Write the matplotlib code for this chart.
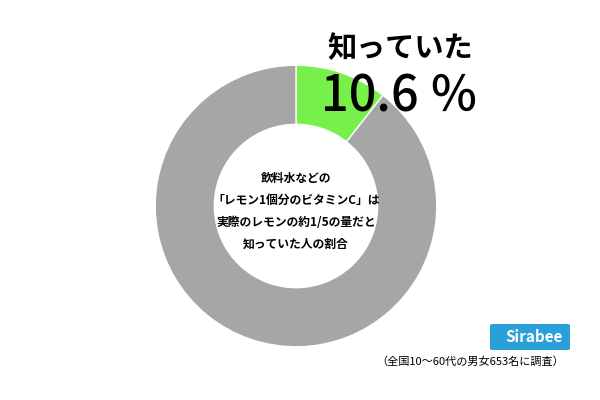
import matplotlib
matplotlib.use("Agg")
import matplotlib.pyplot as plt
from matplotlib.patches import FancyBboxPatch

plt.rcParams['font.family'] = ['Noto Sans CJK JP', 'DejaVu Sans']

labels = ["知っていた", "知らなかった"]
values = [10.6, 89.4]
colors = ["#78f04b", "#a6a6a6"]
center_lines = ["飲料水などの", "「レモン1個分のビタミンC」は", "実際のレモンの約1/5の量だと", "知っていた人の割合"]
headline = "知っていた"
pct_text = "10.6 ％"
note = "（全国10〜60代の男女653名に調査）"

fig = plt.figure(figsize=(6, 4), dpi=100)
S = 176
ax = fig.add_axes([(296-S)/600, 1-(206+S)/400, 2*S/600, 2*S/400])
ax.pie(values, colors=colors, startangle=90, counterclock=False,
       wedgeprops=dict(width=0.42, edgecolor='white', linewidth=1))
ax.set_aspect('equal')
for i, t in enumerate(center_lines):
    fig.text(296/600, 1-(178+22*i)/400, t, ha='center', va='center', fontsize=8.5, fontweight='bold')

fig.text(400/600, 1-48/400, headline, ha='center', va='center', fontsize=21, fontweight='bold')
fig.text(400/600, 1-98/400, pct_text, ha='center', va='center', fontsize=35, fontweight='medium')

bx = fig.add_axes([490/600, 1-350/400, 80/600, 26/400])
bx.axis('off')
bx.add_patch(FancyBboxPatch((0, 0), 1, 1, boxstyle="round,pad=0,rounding_size=0.1", color="#2aa0d8", transform=bx.transAxes))
bx.text(0.55, 0.5, "Sirabee", color='white', ha='center', va='center', fontsize=11, fontweight='bold', style='italic', transform=bx.transAxes)

fig.text(470/600, 1-362/400, note, ha='center', va='center', fontsize=8)
fig.savefig("out.png", dpi=100)
